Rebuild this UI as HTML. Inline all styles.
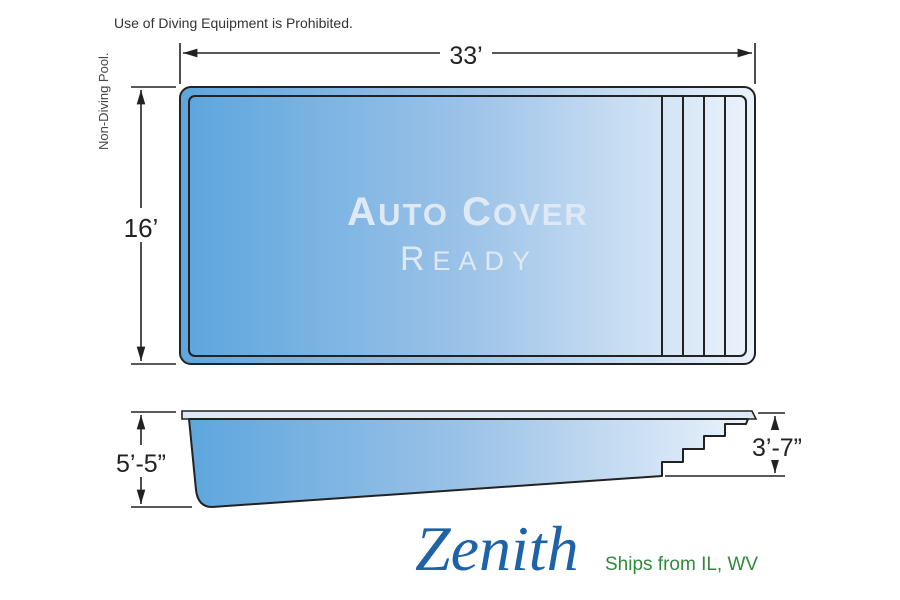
<!DOCTYPE html>
<html><head><style>body{margin:0;background:#fff}svg{display:block}</style></head><body>
<svg width="900" height="600" viewBox="0 0 900 600" xmlns="http://www.w3.org/2000/svg" font-family="Liberation Sans, sans-serif">
<defs>
<linearGradient id="g" x1="0" x2="1" y1="0" y2="0">
<stop offset="0" stop-color="#5ea6de"/><stop offset="0.5" stop-color="#9cc3e8"/><stop offset="1" stop-color="#eaf2fb"/></linearGradient>
<marker id="a" viewBox="0 0 10 10" refX="10" refY="5" markerWidth="9" markerHeight="9" orient="auto-start-reverse"><path d="M0,2 L10,5 L0,8 z" fill="#222"/></marker>
</defs>
<text x="114" y="28" font-size="14" fill="#333">Use of Diving Equipment is Prohibited.</text>
<text transform="translate(108,150) rotate(-90)" font-size="13" fill="#444">Non-Diving Pool.</text>
<g stroke="#222" stroke-width="1.6" fill="none">
<line x1="180" y1="43" x2="180" y2="84"/><line x1="755" y1="43" x2="755" y2="84"/>
<line x1="183" y1="53" x2="752" y2="53" marker-start="url(#a)" marker-end="url(#a)"/>
<line x1="131" y1="87" x2="176" y2="87"/><line x1="131" y1="364" x2="176" y2="364"/>
<line x1="141" y1="90" x2="141" y2="361" marker-start="url(#a)" marker-end="url(#a)"/>
<line x1="131" y1="412" x2="176" y2="412"/><line x1="131" y1="507" x2="192" y2="507"/>
<line x1="141" y1="415" x2="141" y2="504" marker-start="url(#a)" marker-end="url(#a)"/>
<line x1="758" y1="413" x2="785" y2="413"/><line x1="665" y1="476" x2="785" y2="476"/>
<line x1="775" y1="416" x2="775" y2="473" marker-start="url(#a)" marker-end="url(#a)"/>
</g>
<rect x="440" y="40" width="52" height="28" fill="#fff"/>
<text x="466" y="64" font-size="25" text-anchor="middle" fill="#222">33’</text>
<rect x="116" y="208" width="50" height="34" fill="#fff"/>
<text x="141" y="237" font-size="26" text-anchor="middle" fill="#222">16’</text>
<rect x="106" y="445" width="70" height="32" fill="#fff"/>
<text x="141" y="472" font-size="25" text-anchor="middle" fill="#222">5’-5”</text>
<rect x="748" y="430" width="60" height="30" fill="#fff"/>
<text x="777" y="456" font-size="25" text-anchor="middle" fill="#222">3’-7”</text>
<rect x="180" y="87" width="575" height="277" rx="11" fill="url(#g)" stroke="#222" stroke-width="2"/>
<rect x="189" y="96" width="557" height="260" rx="6" fill="url(#g)" stroke="#222" stroke-width="2"/>
<g stroke="#222" stroke-width="2"><line x1="662" y1="96" x2="662" y2="356"/><line x1="683" y1="96" x2="683" y2="356"/><line x1="704" y1="96" x2="704" y2="356"/><line x1="725" y1="96" x2="725" y2="356"/></g>
<text x="468" y="225" font-size="40" font-weight="bold" text-anchor="middle" fill="#dfe9f5" letter-spacing="2">A<tspan font-size="31">UTO</tspan> C<tspan font-size="31">OVER</tspan></text>
<text x="469" y="270" font-size="34" text-anchor="middle" fill="#dfe9f5" letter-spacing="8">R<tspan font-size="27">EADY</tspan></text>
<path d="M182,411 L752,411 L756,419 L182,419 Z" fill="#dce8f5" stroke="#222" stroke-width="1.6"/>
<path d="M189,419 L196,490 Q198,507 212,507 L662,476 L662,462 L683,462 L683,449 L704,449 L704,436 L725,436 L725,424 L746,424 L748,419 Z" fill="url(#g)" stroke="#222" stroke-width="2" stroke-linejoin="round"/>
<text x="415" y="570" font-size="64" font-style="italic" font-family="Liberation Serif, serif" fill="#1e63a8">Zenith</text>
<text x="605" y="570" font-size="19" fill="#2f8a3a">Ships from IL, WV</text>
</svg>
</body></html>
